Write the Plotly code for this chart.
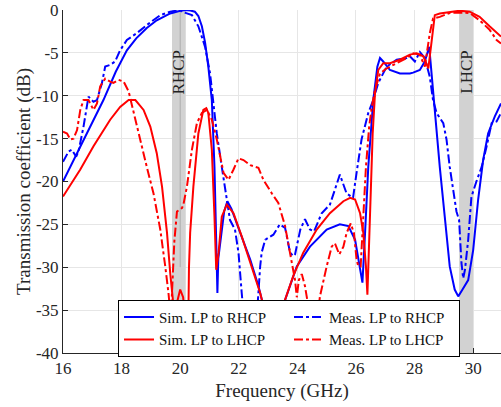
import plotly.graph_objects as go

# ---- data ----
sim_rhcp_f = [16, 16.5, 17.0, 17.38, 17.8, 18.18, 18.5, 18.86, 19.2, 19.66, 20.0, 20.17, 20.35, 20.5, 20.62,
              20.74, 20.85, 20.96, 21.08, 21.17, 21.25, 21.27, 21.3, 21.42, 21.5, 21.61, 21.75, 22.05, 22.39,
              22.67, 22.78, 22.95, 23.15, 23.35, 23.58, 23.98, 24.43, 25.0, 25.45, 25.74, 25.97, 26.14, 26.22,
              26.31, 26.42, 26.59, 26.73, 26.82, 26.93, 27.16, 27.5, 27.84, 27.95, 28.18, 28.35, 28.5, 28.58,
              28.69, 28.86, 29.03, 29.2, 29.37, 29.49, 29.6, 29.83, 30.0, 30.17, 30.34, 30.51, 30.74, 30.95]
sim_rhcp_db = [-20, -16.5, -13.1, -10.5, -7.2, -4.7, -3.3, -2.1, -1.2, -0.4, -0.1, 0, -0.05, -0.2, -0.7,
               -1.9, -3.8, -6.6, -10.5, -18.3, -29.9, -33, -29, -25.6, -23.5, -22.3, -23.2, -26, -29.1,
               -32.2, -33.8, -36, -37.5, -36.5, -33.8, -29.9, -27.6, -25.6, -25, -25.2, -26.8, -29.9, -31.8,
               -26, -18.3, -10.5, -6.6, -5.6, -6.0, -7.0, -7.4, -7.4, -7.3, -7.0, -6.0, -4.3, -7.4,
               -12.4, -18.3, -24.1, -29.9, -32.6, -33.4, -32.8, -31.5, -28, -22.1, -17.5, -14.4, -12.4, -10.9]

meas_rhcp_f = [16.0, 16.19, 16.3, 16.45, 16.53, 16.7, 16.87, 17.04, 17.16, 17.33, 17.44, 17.61, 17.78, 17.95,
               18.18, 18.52, 18.86, 19.32, 19.66, 20.0, 20.06, 20.4, 20.62, 20.85, 21.02, 21.13, 21.25, 21.42,
               21.59, 21.7, 21.87, 21.99, 22.1, 22.2, 22.3, 22.42, 22.56, 22.65, 22.73, 22.78, 22.9, 23.18,
               23.4, 23.58, 23.75, 23.86, 23.92, 24.1, 24.26, 24.43, 24.57, 24.83, 25.11, 25.45, 25.68, 25.9,
               26.02, 26.19, 26.42, 26.59, 26.76, 27.05, 27.39, 27.73, 27.84, 28.01, 28.18, 28.35, 28.52,
               28.63, 28.75, 28.86, 28.98, 29.09, 29.2, 29.32, 29.43, 29.52, 29.6, 29.66, 29.72, 29.83, 29.94,
               30.11, 30.29, 30.46, 30.63, 30.8, 30.95]
meas_rhcp_db = [-17.7, -16.5, -16.3, -17.1, -16.5, -13.6, -10.1, -10.7, -10.5, -8.5, -6.6, -6.4, -6.0, -4.7,
                -3.5, -2.7, -1.75, -0.6, -0.2, 0, -0.2, -0.6, -1.9, -4.3, -7.4, -10.5, -14.4, -18.3,
                -22.1, -24.5, -25.6, -28.3, -33, -37, -41, -45, -41, -34, -29.9, -28.3, -26.8, -26.2,
                -25, -25.4, -28.3, -28.7, -28.5, -25.6, -24.4, -25.6, -25.8, -23.7, -22.7, -19.2, -21.4, -21.9,
                -19, -15.1, -12, -10.5, -8.5, -6.6, -5.8, -5.6, -5.4, -6.0, -4.9, -5.6, -7.8,
                -10.5, -12, -12.6, -13.2, -15.1, -18.3, -21, -23.5, -24.5, -29.5, -31.3, -30.3, -26.8, -21.8,
                -20, -18.3, -15.9, -13.2, -13, -12]

sim_lhcp_f = [16, 16.59, 17.04, 17.61, 17.95, 18.24, 18.47, 18.75, 18.98, 19.2, 19.38, 19.55, 19.66, 19.72,
              19.8, 19.9, 20.0, 20.1, 20.17, 20.22, 20.26, 20.3, 20.34, 20.45, 20.62, 20.79, 20.89, 20.96,
              21.08, 21.17, 21.23, 21.31, 21.42, 21.59, 21.82, 22.1, 22.44, 22.73, 22.95, 23.2, 23.4, 23.58,
              23.86, 24.2, 24.66, 25.11, 25.57, 25.8, 25.97, 26.14, 26.25, 26.34, 26.39, 26.47, 26.57, 26.65,
              26.76, 26.93, 27.16, 27.5, 27.84, 28.07, 28.3, 28.47, 28.58, 28.69, 28.86, 29.2, 29.54, 29.88,
              30.22, 30.56, 30.8, 30.95]
sim_lhcp_db = [-21.75, -18.6, -15.9, -12.8, -11.3, -10.5, -10.5, -11.65, -13.6, -16.7, -20.6, -26, -30.7, -33,
               -35.5, -34, -32.6, -33.5, -36, -41, -41, -30, -26, -20.6, -14.4, -11.65, -11.45, -12,
               -16.3, -24.1, -30.3, -28.3, -24.1, -22.7, -23.7, -26.4, -29.9, -33, -36, -37.5, -36, -33.8,
               -31, -28.3, -25.6, -23.7, -22.3, -21.9, -22.1, -23.7, -26, -29.9, -33.2, -25, -14.4, -9.7,
               -7, -6.2, -6.2, -5.8, -5.2, -5.05, -5.4, -6.8, -3.5, -0.6, -0.4, -0.2, -0.08, -0.2,
               -0.8, -1.9, -2.7, -3.1]

meas_lhcp_f = [16.0, 16.14, 16.25, 16.36, 16.48, 16.59, 16.7, 16.87, 17.04, 17.16, 17.27, 17.44, 17.61, 17.72,
               17.9, 18.07, 18.24, 18.41, 18.64, 18.86, 19.09, 19.32, 19.49, 19.6, 19.68, 19.74, 19.8, 19.89,
               20.06, 20.11, 20.23, 20.4, 20.57, 20.74, 20.91, 21.08, 21.25, 21.48, 21.65, 21.82, 21.99, 22.16,
               22.39, 22.67, 22.84, 23.13, 23.35, 23.58, 23.75, 23.92, 23.98, 24.05, 24.15, 24.26, 24.37, 24.55,
               24.7, 24.77, 25.0, 25.17, 25.28, 25.43, 25.57, 25.68, 25.82, 25.93, 26.02, 26.08, 26.16, 26.25,
               26.34, 26.45, 26.54, 26.65, 26.82, 27.05, 27.39, 27.73, 27.95, 28.18, 28.35, 28.52, 28.63, 28.86,
               29.2, 29.54, 29.88, 30.22, 30.56, 30.8, 30.95]
meas_lhcp_db = [-14.2, -14.4, -15.1, -15.0, -14.0, -11.65, -10.5, -10.5, -11.65, -10.9, -8.9, -8.0, -8.35, -8.5,
                -8.15, -8.35, -9.5, -12, -15.1, -18.3, -21.4, -25.6, -29.9, -33, -36, -32, -27, -23.5,
                -23.1, -22.7, -20.6, -16.3, -13.2, -12, -11.65, -12.8, -15.1, -19, -19.8, -18.6, -17.3, -17.5,
                -18.1, -18.4, -19.8, -21.4, -22.5, -25.2, -28.3, -31.5, -33.5, -31.5, -30.8, -32.2, -34.5, -37,
                -35.5, -33.4, -29.9, -27.6, -27.2, -28.5, -27.6, -26, -24.9, -26, -29.1, -29.9, -29.9, -24.1,
                -18.3, -13.6, -11.3, -9.3, -7.4, -6.8, -6.2, -5.6, -5.05, -5.2, -6.6, -2.7, -1.0, -0.8,
                -0.35, -0.3, -0.35, -1.2, -2.3, -3.5, -3.9]

x_ticks = [16, 18, 20, 22, 24, 26, 28, 30]
y_ticks = [0, -5, -10, -15, -20, -25, -30, -35, -40]
y_tick_text = ["0", "-5", "-10", "-15", "-20", "-25", "-30", "-35", "-40"]

bands = [("RHCP", 19.72, 20.19), ("LHCP", 29.52, 30.0)]

FONT = "Liberation Serif"
BLUE = "#0000ff"
RED = "#ff0000"

fig = go.Figure()
fig.add_trace(go.Scatter(x=sim_rhcp_f, y=sim_rhcp_db, mode="lines", name="Sim. LP to RHCP",
                         line=dict(color=BLUE, width=2)))
fig.add_trace(go.Scatter(x=meas_rhcp_f, y=meas_rhcp_db, mode="lines", name="Meas. LP to RHCP",
                         line=dict(color=BLUE, width=2, dash="dashdot")))
fig.add_trace(go.Scatter(x=sim_lhcp_f, y=sim_lhcp_db, mode="lines", name="Sim. LP to LHCP",
                         line=dict(color=RED, width=2)))
fig.add_trace(go.Scatter(x=meas_lhcp_f, y=meas_lhcp_db, mode="lines", name="Meas. LP to LHCP",
                         line=dict(color=RED, width=2, dash="dashdot")))

for label, x0, x1 in bands:
    fig.add_shape(type="rect", xref="x", yref="y", x0=x0, x1=x1, y0=-40, y1=0,
                  fillcolor="#d2d2d2", line=dict(width=0), layer="between")
    fig.add_annotation(x=(x0 + x1) / 2, y=-7.3, text=label, textangle=-90, showarrow=False,
                       font=dict(family=FONT, size=17, color="#222222"))
fig.add_shape(type="line", xref="x", yref="y", x0=20, x1=20, y0=0, y1=-30,
              line=dict(color="rgba(0,0,0,0.18)", width=1), layer="between")

fig.update_layout(
    width=501, height=407,
    margin=dict(l=63, r=0, t=10, b=54, autoexpand=False),
    paper_bgcolor="white", plot_bgcolor="white",
    font=dict(family=FONT, size=17, color="#262626"),
    showlegend=True,
    legend=dict(orientation="h", x=0.1256, y=0.155, xanchor="left", yanchor="top",
                bgcolor="white", bordercolor="#000000", borderwidth=1,
                font=dict(family=FONT, size=15, color="#111111"),
                entrywidth=125, entrywidthmode="pixels", tracegroupgap=0),
    xaxis=dict(range=[16, 30.95], tickvals=x_ticks, ticks="inside", ticklen=5, tickcolor="#262626",
               showline=True, linecolor="#262626", linewidth=1, mirror=False, automargin=False,
               showgrid=True, gridcolor="#e6e6e6", gridwidth=1, zeroline=False,
               title=dict(text="Frequency (GHz)", font=dict(family=FONT, size=19), standoff=6),
               tickfont=dict(family=FONT, size=17)),
    yaxis=dict(range=[-40, 0], tickvals=y_ticks, ticktext=y_tick_text, ticks="inside", ticklen=5,
               tickcolor="#262626", showline=True, linecolor="#262626", linewidth=1, mirror=False,
               automargin=False,
               showgrid=True, gridcolor="#e6e6e6", gridwidth=1, zeroline=False,
               title=dict(text="Transmission coefficient (dB)", font=dict(family=FONT, size=19), standoff=0),
               tickfont=dict(family=FONT, size=17)),
)

fig.write_html("out.html", config={"displayModeBar": False},
               post_script="document.body.style.margin='0';")
